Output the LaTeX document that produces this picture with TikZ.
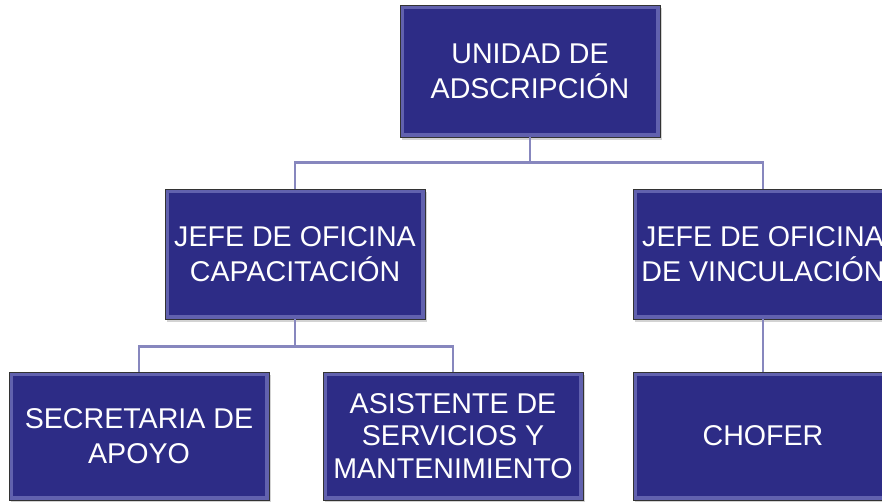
\documentclass[tikz,border=0pt]{standalone}
\usepackage{fontspec}
\setmainfont{Liberation Sans}
\usepackage{tikz}
\usetikzlibrary{positioning,shadows}

\definecolor{boxnavy}{RGB}{45,44,134}
\definecolor{bevel}{RGB}{150,150,215}
\definecolor{linkcol}{RGB}{135,135,190}

\begin{document}
\begin{tikzpicture}[x=1pt,y=1pt,on grid,
	unit/.style={rectangle,draw=black!80,line width=0.8pt,fill=boxnavy,text=white,
		minimum width=260pt,minimum height=130pt,align=center,
		font=\fontsize{28.6}{35}\selectfont,
		drop shadow={shadow xshift=2pt,shadow yshift=-3pt,opacity=0.35},
		path picture={\draw[bevel,line width=8pt,opacity=0.5]
			(path picture bounding box.south west) rectangle (path picture bounding box.north east);
			\draw[boxnavy,line width=3pt,opacity=0.6]
			([shift={(5.5pt,5.5pt)}]path picture bounding box.south west) rectangle ([shift={(-5.5pt,-5.5pt)}]path picture bounding box.north east);}},
	link/.style={draw=linkcol,line width=2.5pt}]
	\useasboundingbox (0,0) rectangle (882,-501);
	\clip (0,0) rectangle (882,-501);
	\node[unit,minimum height=132pt] (unidad) at (530,-71) {UNIDAD DE\\ADSCRIPCIÓN};
	\node[unit] (jefecap) [below left=183pt and 235pt of unidad] {JEFE DE OFICINA\\CAPACITACIÓN};
	\node[unit] (jefevin) [below right=183pt and 233pt of unidad] {JEFE DE OFICINA\\DE VINCULACIÓN};
	\node[unit,minimum height=128pt] (secre) [below left=182pt and 156pt of jefecap] {SECRETARIA DE\\APOYO};
	\node[unit,minimum height=128pt,font=\fontsize{28.6}{32.5}\selectfont] (asist) [below right=182pt and 158pt of jefecap] {ASISTENTE DE\\SERVICIOS Y\\MANTENIMIENTO};
	\node[unit,minimum height=128pt] (chofer) [below=182pt of jefevin] {CHOFER};
	% conectores
	\draw[link] (unidad.south) -- ++(0,-25) -| (jefecap.north);
	\draw[link] (unidad.south) -- ++(0,-25) -| (jefevin.north);
	\draw[link] (jefecap.south) -- ++(0,-27) -| (secre.north);
	\draw[link] (jefecap.south) -- ++(0,-27) -| (asist.north);
	\draw[link] (jefevin.south) -- (chofer.north);
\end{tikzpicture}
\end{document}
